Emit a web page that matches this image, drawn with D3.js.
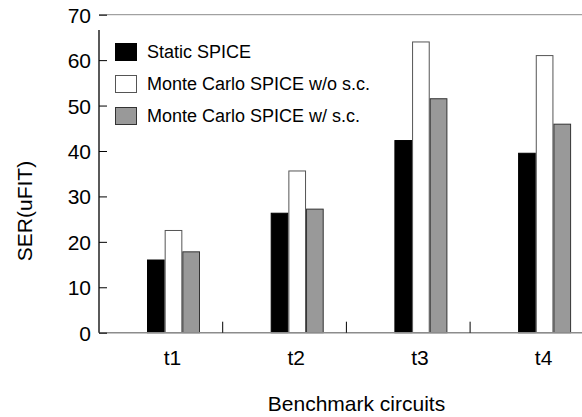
<!DOCTYPE html>
<html>
<head>
<meta charset="utf-8">
<script src="https://cdn.jsdelivr.net/npm/d3@7"></script>
<style>
  body { margin: 0; background: #fff; }
  text { font-family: "Liberation Sans", Arial, sans-serif; fill: #000; }
</style>
</head>
<body>
<div id="chart"></div>
<script>
const categories = ["t1", "t2", "t3", "t4"];
const seriesNames = ["Static SPICE", "Monte Carlo SPICE w/o s.c.", "Monte Carlo SPICE w/ s.c."];
const staticSpice = [16.0, 26.3, 42.3, 39.5];
const mcNoSc = [22.5, 35.6, 64.0, 61.0];
const mcSc = [17.8, 27.2, 51.5, 45.9];
const yTicks = [0, 10, 20, 30, 40, 50, 60, 70];

const seriesFill = ["#000000", "#ffffff", "#999999"];
const seriesStroke = ["#000000", "#555555", "#333333"];

const width = 582, height = 417;
const margin = { top: 14.7, left: 99, bottom: 84.3 };
const plotBottom = height - margin.bottom;

const svg = d3.select("#chart").append("svg")
  .attr("width", width)
  .attr("height", height);

const y = d3.scaleLinear().domain([0, 70]).range([plotBottom, margin.top]);

// bands run past the right edge, the picture is cropped there
const x = d3.scaleBand().domain(categories).range([margin.left, margin.left + 4 * 123.7]);
const x1 = d3.scaleBand().domain(seriesNames).range([48, 48 + 53]);

const rows = categories.map((c, i) => ({
  cat: c,
  values: [staticSpice[i], mcNoSc[i], mcSc[i]]
}));

// top frame line at 70
svg.append("line")
  .attr("x1", margin.left).attr("x2", width)
  .attr("y1", y(70)).attr("y2", y(70))
  .attr("stroke", "#8c8c8c").attr("stroke-width", 1);

// bars
const groups = svg.selectAll("g.grp")
  .data(rows)
  .enter().append("g")
  .attr("class", "grp")
  .attr("transform", d => `translate(${x(d.cat)},0)`);

groups.selectAll("rect")
  .data(d => d.values.map((v, i) => ({ name: seriesNames[i], v, i })))
  .enter().append("rect")
  .attr("x", d => x1(d.name) + 0.5)
  .attr("y", d => y(d.v))
  .attr("width", x1.bandwidth() - 1)
  .attr("height", d => y(0) - y(d.v))
  .attr("fill", d => seriesFill[d.i])
  .attr("stroke", d => seriesStroke[d.i])
  .attr("stroke-width", 1);

// x axis line (gray)
svg.append("line")
  .attr("x1", margin.left).attr("x2", width)
  .attr("y1", y(0)).attr("y2", y(0))
  .attr("stroke", "#8c8c8c").attr("stroke-width", 1.5);

// category boundary ticks
svg.selectAll("line.xtick")
  .data(categories.slice(0, 3))
  .enter().append("line")
  .attr("class", "xtick")
  .attr("x1", d => x(d) + x.bandwidth())
  .attr("x2", d => x(d) + x.bandwidth())
  .attr("y1", y(0))
  .attr("y2", y(0) - 11)
  .attr("stroke", "#000").attr("stroke-width", 1);

// category labels
svg.selectAll("text.xlab")
  .data(categories)
  .enter().append("text")
  .attr("class", "xlab")
  .attr("x", d => x(d) + 73.5)
  .attr("y", 365)
  .attr("text-anchor", "middle")
  .style("font-size", "21px")
  .text(d => d);

// y axis
const yAxis = svg.append("g")
  .attr("transform", `translate(${margin.left},0)`)
  .call(d3.axisLeft(y).tickValues(yTicks).tickSizeInner(-8).tickSizeOuter(0).tickPadding(8));
yAxis.select(".domain").remove();
yAxis.selectAll(".tick line").attr("stroke", "#000");
yAxis.selectAll(".tick text")
  .style("font-size", "21px")
  .style("font-family", "'Liberation Sans', Arial, sans-serif")
  .attr("dy", "0.36em");

yAxis.append("line")
  .attr("x1", 0).attr("x2", 0)
  .attr("y1", y(0)).attr("y2", 30)
  .attr("stroke", "#000").attr("stroke-width", 1.3);

// axis titles
svg.append("text")
  .attr("transform", "translate(32,211) rotate(-90)")
  .attr("text-anchor", "middle")
  .style("font-size", "21px")
  .text("SER(uFIT)");

svg.append("text")
  .attr("x", 356.5)
  .attr("y", 410.5)
  .attr("text-anchor", "middle")
  .style("font-size", "21px")
  .text("Benchmark circuits");

// legend
const legend = svg.append("g").attr("transform", "translate(115,43)");
seriesNames.forEach((name, i) => {
  const row = legend.append("g").attr("transform", `translate(0,${i * 32})`);
  row.append("rect")
    .attr("x", 0.5).attr("y", 0.5)
    .attr("width", 21).attr("height", 17)
    .attr("fill", seriesFill[i])
    .attr("stroke", seriesStroke[i]);
  row.append("text")
    .attr("x", 32)
    .attr("y", 14.5)
    .style("font-size", "18px")
    .text(name);
});
</script>
</body>
</html>
